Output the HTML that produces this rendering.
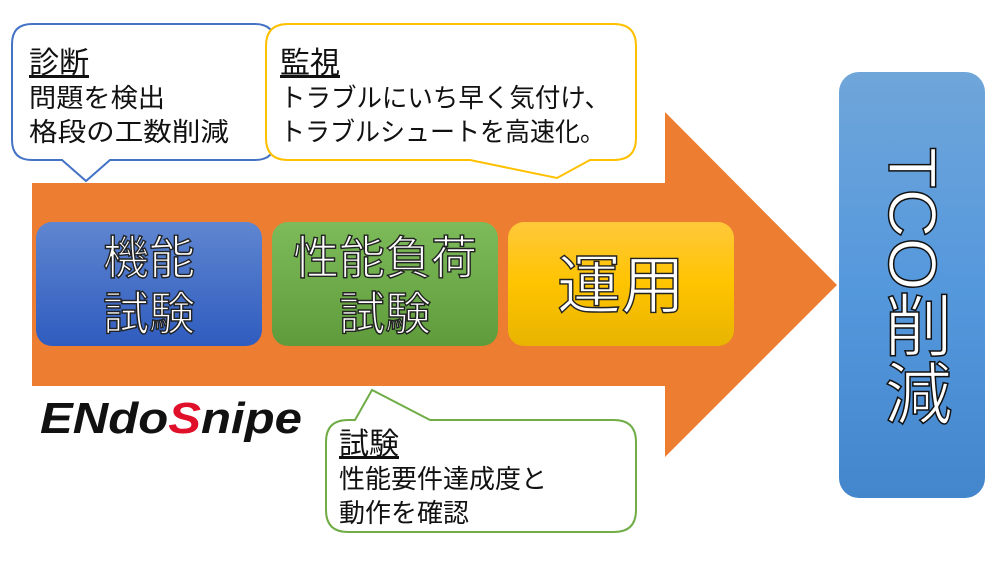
<!DOCTYPE html>
<html><head><meta charset="utf-8"><style>
html,body{margin:0;padding:0;background:#fff;width:1000px;height:563px;overflow:hidden}
svg{display:block}
.jp{font-family:"Liberation Sans","Noto Sans CJK JP",sans-serif}
</style></head><body>
<svg width="1000" height="563" viewBox="0 0 1000 563" xmlns="http://www.w3.org/2000/svg">
<defs>
<linearGradient id="gb" x1="0" y1="0" x2="0" y2="1"><stop offset="0" stop-color="#5f86d0"/><stop offset="1" stop-color="#2f5cbf"/></linearGradient>
<linearGradient id="gg" x1="0" y1="0" x2="0" y2="1"><stop offset="0" stop-color="#7dbb5a"/><stop offset="1" stop-color="#5f9b3a"/></linearGradient>
<linearGradient id="gy" x1="0" y1="0" x2="0" y2="1"><stop offset="0" stop-color="#ffc83a"/><stop offset="0.5" stop-color="#ffc400"/><stop offset="1" stop-color="#e8b400"/></linearGradient>
<linearGradient id="gt" x1="0" y1="0" x2="0" y2="1"><stop offset="0" stop-color="#6fa6da"/><stop offset="0.5" stop-color="#5598dc"/><stop offset="1" stop-color="#4486cc"/></linearGradient>
</defs>
<polygon points="32,183 665,183 665,112 837,285 665,457 665,386 32,386" fill="#ed7d31"/>
<rect x="36" y="222" width="226" height="124" rx="16" fill="url(#gb)"/>
<rect x="272" y="222" width="226" height="124" rx="16" fill="url(#gg)"/>
<rect x="508" y="222" width="226" height="124" rx="16" fill="url(#gy)"/>
<g class="jp" fill="#fff" stroke="#222" stroke-width="1.4" font-size="46" text-anchor="middle">
<text x="149" y="274">機能</text><text x="149" y="330">試験</text>
<text x="385" y="274">性能負荷</text><text x="385" y="330">試験</text>
<text x="621" y="308" font-size="64">運用</text>
</g>
<rect x="839" y="72" width="146" height="426" rx="20" fill="url(#gt)"/>
<text class="jp" x="912" y="147" font-size="68" fill="#fff" stroke="#111" stroke-width="1.5" style="writing-mode:vertical-rl;text-orientation:mixed">TCO削減</text>
<path d="M32,24 H255 Q275,24 275,44 V140 Q275,160 255,160 H110 L86,181 L62,160 H32 Q12,160 12,140 V44 Q12,24 32,24 Z" fill="#fff" stroke="#4472c4" stroke-width="2"/>
<path d="M288,24 H614 Q636,24 636,46 V138 Q636,160 614,160 H590 L557,178 L470,160 H288 Q266,160 266,138 V46 Q266,24 288,24 Z" fill="#fff" stroke="#ffc000" stroke-width="2"/>
<path d="M348,420 H355 L372,390 L430,420 H614 Q636,420 636,442 V510 Q636,532 614,532 H348 Q326,532 326,510 V442 Q326,420 348,420 Z" fill="#fff" stroke="#70ad47" stroke-width="2"/>
<g class="jp" fill="#111" font-size="26">
<text x="29" y="73" font-size="30" text-decoration="underline">診断</text>
<text x="29" y="107" textLength="136" lengthAdjust="spacingAndGlyphs">問題を検出</text>
<text x="29" y="141" textLength="200" lengthAdjust="spacingAndGlyphs">格段の工数削減</text>
<text x="280" y="73" font-size="30" text-decoration="underline">監視</text>
<text x="280" y="107" textLength="330" lengthAdjust="spacingAndGlyphs">トラブルにいち早く気付け、</text>
<text x="280" y="141" textLength="325" lengthAdjust="spacingAndGlyphs">トラブルシュートを高速化。</text>
<text x="339" y="454" font-size="30" text-decoration="underline">試験</text>
<text x="339" y="488">性能要件達成度と</text>
<text x="339" y="522">動作を確認</text>
</g>
<text x="40" y="433" font-family="Liberation Sans,sans-serif" font-weight="bold" font-style="italic" font-size="44" fill="#111" textLength="262" lengthAdjust="spacingAndGlyphs">ENdo<tspan fill="#e0102a">S</tspan>nipe</text>
</svg>
</body></html>
